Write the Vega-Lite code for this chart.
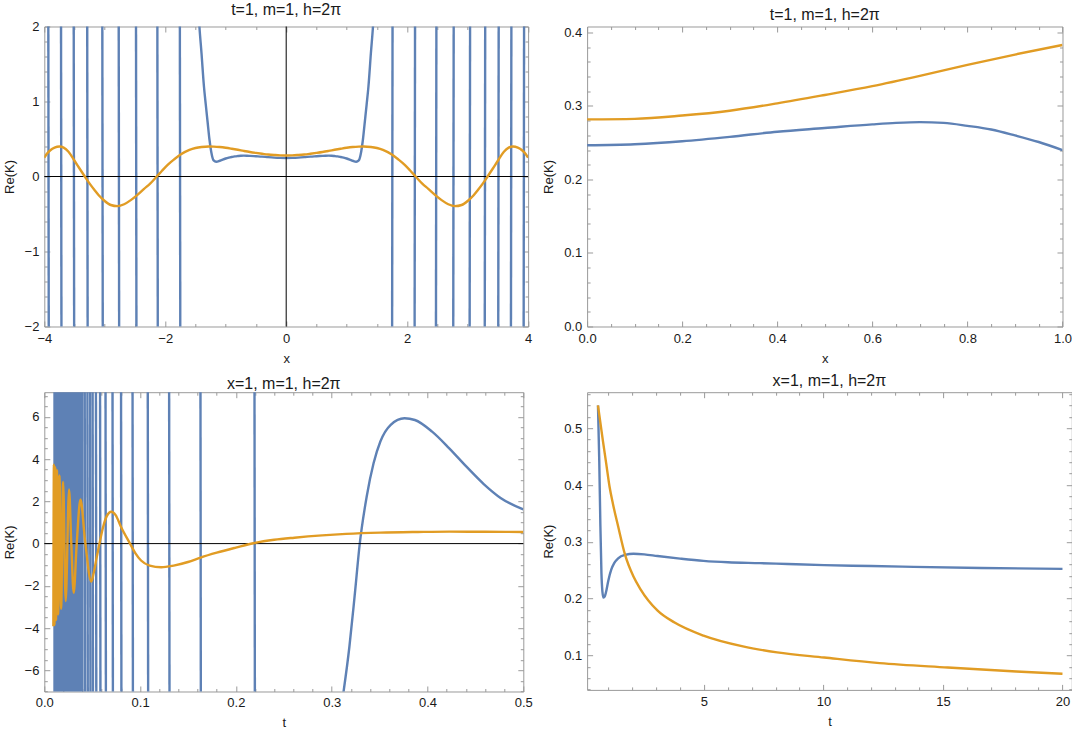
{
  "$schema": "https://vega.github.io/schema/vega-lite/v6.json",
  "background": "white",
  "padding": {"left": 2.3, "top": 0.5, "right": 5, "bottom": 5},
  "datasets": {
    "zero": [{"v": 0}],
    "tl_blue": [
      {"x": -3.934, "y": 2.3, "g": "a1"}, {"x": -3.926, "y": -2.3, "g": "a1"},
      {"x": -3.724, "y": 2.3, "g": "a2"}, {"x": -3.716, "y": -2.3, "g": "a2"},
      {"x": -3.514, "y": 2.3, "g": "a3"}, {"x": -3.506, "y": -2.3, "g": "a3"},
      {"x": -3.291, "y": 2.3, "g": "a4"}, {"x": -3.283, "y": -2.3, "g": "a4"},
      {"x": -3.041, "y": 2.3, "g": "a5"}, {"x": -3.033, "y": -2.3, "g": "a5"},
      {"x": -2.77, "y": 2.3, "g": "a6"}, {"x": -2.762, "y": -2.3, "g": "a6"},
      {"x": -2.484, "y": 2.3, "g": "a7"}, {"x": -2.476, "y": -2.3, "g": "a7"},
      {"x": -2.131, "y": 2.3, "g": "a8"}, {"x": -2.123, "y": -2.3, "g": "a8"},
      {"x": -1.759, "y": 2.3, "g": "a9"}, {"x": -1.751, "y": -2.3, "g": "a9"},
      {"x": 1.751, "y": -2.3, "g": "b1"}, {"x": 1.759, "y": 2.3, "g": "b1"},
      {"x": 2.123, "y": -2.3, "g": "b2"}, {"x": 2.131, "y": 2.3, "g": "b2"},
      {"x": 2.476, "y": -2.3, "g": "b3"}, {"x": 2.484, "y": 2.3, "g": "b3"},
      {"x": 2.762, "y": -2.3, "g": "b4"}, {"x": 2.77, "y": 2.3, "g": "b4"},
      {"x": 3.033, "y": -2.3, "g": "b5"}, {"x": 3.041, "y": 2.3, "g": "b5"},
      {"x": 3.283, "y": -2.3, "g": "b6"}, {"x": 3.291, "y": 2.3, "g": "b6"},
      {"x": 3.506, "y": -2.3, "g": "b7"}, {"x": 3.514, "y": 2.3, "g": "b7"},
      {"x": 3.716, "y": -2.3, "g": "b8"}, {"x": 3.724, "y": 2.3, "g": "b8"},
      {"x": 3.926, "y": -2.3, "g": "b9"}, {"x": 3.934, "y": 2.3, "g": "b9"},
      {"x": -1.46, "y": 2.35, "g": "c"}, {"x": -1.435, "y": 2.0, "g": "c"},
      {"x": -1.4, "y": 1.64, "g": "c"}, {"x": -1.36, "y": 1.2, "g": "c"},
      {"x": -1.33, "y": 0.96, "g": "c"}, {"x": -1.3, "y": 0.73, "g": "c"},
      {"x": -1.27, "y": 0.5, "g": "c"}, {"x": -1.24, "y": 0.33, "g": "c"},
      {"x": -1.2, "y": 0.215, "g": "c"}, {"x": -1.157, "y": 0.197, "g": "c"},
      {"x": -1.1, "y": 0.21, "g": "c"}, {"x": -1.05, "y": 0.226, "g": "c"},
      {"x": -1.0, "y": 0.24, "g": "c"}, {"x": -0.95, "y": 0.251, "g": "c"},
      {"x": -0.9, "y": 0.26, "g": "c"}, {"x": -0.85, "y": 0.268, "g": "c"},
      {"x": -0.8, "y": 0.273, "g": "c"}, {"x": -0.75, "y": 0.277, "g": "c"},
      {"x": -0.7, "y": 0.278, "g": "c"}, {"x": -0.65, "y": 0.277, "g": "c"},
      {"x": -0.6, "y": 0.275, "g": "c"}, {"x": -0.5, "y": 0.27, "g": "c"},
      {"x": -0.4, "y": 0.265, "g": "c"}, {"x": -0.3, "y": 0.258, "g": "c"},
      {"x": -0.2, "y": 0.252, "g": "c"}, {"x": -0.1, "y": 0.248, "g": "c"},
      {"x": 0, "y": 0.2465, "g": "c"},
      {"x": 0.1, "y": 0.248, "g": "c"}, {"x": 0.2, "y": 0.252, "g": "c"},
      {"x": 0.3, "y": 0.258, "g": "c"}, {"x": 0.4, "y": 0.265, "g": "c"},
      {"x": 0.5, "y": 0.27, "g": "c"}, {"x": 0.6, "y": 0.275, "g": "c"},
      {"x": 0.65, "y": 0.277, "g": "c"}, {"x": 0.7, "y": 0.278, "g": "c"},
      {"x": 0.75, "y": 0.277, "g": "c"}, {"x": 0.8, "y": 0.273, "g": "c"},
      {"x": 0.85, "y": 0.268, "g": "c"}, {"x": 0.9, "y": 0.26, "g": "c"},
      {"x": 0.95, "y": 0.251, "g": "c"}, {"x": 1.0, "y": 0.24, "g": "c"},
      {"x": 1.05, "y": 0.226, "g": "c"}, {"x": 1.1, "y": 0.21, "g": "c"},
      {"x": 1.157, "y": 0.197, "g": "c"}, {"x": 1.2, "y": 0.215, "g": "c"},
      {"x": 1.24, "y": 0.33, "g": "c"}, {"x": 1.27, "y": 0.5, "g": "c"},
      {"x": 1.3, "y": 0.73, "g": "c"}, {"x": 1.33, "y": 0.96, "g": "c"},
      {"x": 1.36, "y": 1.2, "g": "c"}, {"x": 1.4, "y": 1.64, "g": "c"},
      {"x": 1.435, "y": 2.0, "g": "c"}, {"x": 1.46, "y": 2.35, "g": "c"}
    ],
    "tl_orange": [
      {"x": -4.0, "y": 0.25}, {"x": -3.96, "y": 0.3}, {"x": -3.9, "y": 0.35},
      {"x": -3.83, "y": 0.385}, {"x": -3.75, "y": 0.4}, {"x": -3.68, "y": 0.385},
      {"x": -3.6, "y": 0.33}, {"x": -3.5, "y": 0.21}, {"x": -3.42, "y": 0.11},
      {"x": -3.33, "y": 0.0}, {"x": -3.25, "y": -0.095}, {"x": -3.17, "y": -0.18},
      {"x": -3.1, "y": -0.25}, {"x": -3.01, "y": -0.32}, {"x": -2.9, "y": -0.38},
      {"x": -2.79, "y": -0.395}, {"x": -2.68, "y": -0.37}, {"x": -2.57, "y": -0.315},
      {"x": -2.46, "y": -0.245}, {"x": -2.35, "y": -0.165}, {"x": -2.25, "y": -0.095},
      {"x": -2.14, "y": 0.0}, {"x": -2.05, "y": 0.08}, {"x": -1.96, "y": 0.155},
      {"x": -1.85, "y": 0.23}, {"x": -1.74, "y": 0.297}, {"x": -1.6, "y": 0.355},
      {"x": -1.5, "y": 0.38}, {"x": -1.4, "y": 0.394}, {"x": -1.28, "y": 0.401},
      {"x": -1.2, "y": 0.399}, {"x": -1.1, "y": 0.393}, {"x": -1.0, "y": 0.383},
      {"x": -0.9, "y": 0.37}, {"x": -0.8, "y": 0.356}, {"x": -0.7, "y": 0.341},
      {"x": -0.6, "y": 0.327}, {"x": -0.5, "y": 0.315}, {"x": -0.4, "y": 0.304},
      {"x": -0.3, "y": 0.294}, {"x": -0.2, "y": 0.287}, {"x": -0.1, "y": 0.282},
      {"x": 0, "y": 0.281},
      {"x": 0.1, "y": 0.282}, {"x": 0.2, "y": 0.287}, {"x": 0.3, "y": 0.294},
      {"x": 0.4, "y": 0.304}, {"x": 0.5, "y": 0.315}, {"x": 0.6, "y": 0.327},
      {"x": 0.7, "y": 0.341}, {"x": 0.8, "y": 0.356}, {"x": 0.9, "y": 0.37},
      {"x": 1.0, "y": 0.383}, {"x": 1.1, "y": 0.393}, {"x": 1.2, "y": 0.399},
      {"x": 1.28, "y": 0.401}, {"x": 1.4, "y": 0.394}, {"x": 1.5, "y": 0.38},
      {"x": 1.6, "y": 0.355}, {"x": 1.74, "y": 0.297}, {"x": 1.85, "y": 0.23},
      {"x": 1.96, "y": 0.155}, {"x": 2.05, "y": 0.08}, {"x": 2.14, "y": 0.0},
      {"x": 2.25, "y": -0.095}, {"x": 2.35, "y": -0.165}, {"x": 2.46, "y": -0.245},
      {"x": 2.57, "y": -0.315}, {"x": 2.68, "y": -0.37}, {"x": 2.79, "y": -0.395},
      {"x": 2.9, "y": -0.38}, {"x": 3.01, "y": -0.32}, {"x": 3.1, "y": -0.25},
      {"x": 3.17, "y": -0.18}, {"x": 3.25, "y": -0.095}, {"x": 3.33, "y": 0.0},
      {"x": 3.42, "y": 0.11}, {"x": 3.5, "y": 0.21}, {"x": 3.6, "y": 0.33},
      {"x": 3.68, "y": 0.385}, {"x": 3.75, "y": 0.4}, {"x": 3.83, "y": 0.385},
      {"x": 3.9, "y": 0.35}, {"x": 3.96, "y": 0.3}, {"x": 4.0, "y": 0.25}
    ],
    "tr_blue": [
      {"x": 0, "y": 0.2465}, {"x": 0.1, "y": 0.248}, {"x": 0.2, "y": 0.252},
      {"x": 0.3, "y": 0.258}, {"x": 0.4, "y": 0.265}, {"x": 0.5, "y": 0.27},
      {"x": 0.6, "y": 0.275}, {"x": 0.65, "y": 0.277}, {"x": 0.7, "y": 0.278},
      {"x": 0.75, "y": 0.277}, {"x": 0.8, "y": 0.273}, {"x": 0.85, "y": 0.268},
      {"x": 0.9, "y": 0.26}, {"x": 0.95, "y": 0.251}, {"x": 1.0, "y": 0.24}
    ],
    "tr_orange": [
      {"x": 0, "y": 0.2818}, {"x": 0.1, "y": 0.2825}, {"x": 0.2, "y": 0.287},
      {"x": 0.3, "y": 0.2936}, {"x": 0.4, "y": 0.3036}, {"x": 0.5, "y": 0.315},
      {"x": 0.6, "y": 0.327}, {"x": 0.7, "y": 0.341}, {"x": 0.8, "y": 0.356},
      {"x": 0.9, "y": 0.37}, {"x": 1.0, "y": 0.383}
    ],
    "bl_fill": [{"x": 0.0094, "x2": 0.041, "y": -7.6, "y2": 7.6}],
    "bl_blue": [
      {"x": 0.0422, "y": 7.6, "g": "s1"}, {"x": 0.0426, "y": -7.6, "g": "s1"},
      {"x": 0.045, "y": 7.6, "g": "s2"}, {"x": 0.0454, "y": -7.6, "g": "s2"},
      {"x": 0.0478, "y": 7.6, "g": "s3"}, {"x": 0.0482, "y": -7.6, "g": "s3"},
      {"x": 0.0504, "y": 7.6, "g": "s4"}, {"x": 0.0508, "y": -7.6, "g": "s4"},
      {"x": 0.0539, "y": 7.6, "g": "s5"}, {"x": 0.0543, "y": -7.6, "g": "s5"},
      {"x": 0.0582, "y": 7.6, "g": "s6"}, {"x": 0.0586, "y": -7.6, "g": "s6"},
      {"x": 0.0639, "y": 7.6, "g": "s7"}, {"x": 0.0643, "y": -7.6, "g": "s7"},
      {"x": 0.0712, "y": 7.6, "g": "s8"}, {"x": 0.0716, "y": -7.6, "g": "s8"},
      {"x": 0.0801, "y": 7.6, "g": "s9"}, {"x": 0.0805, "y": -7.6, "g": "s9"},
      {"x": 0.0921, "y": 7.6, "g": "s10"}, {"x": 0.0925, "y": -7.6, "g": "s10"},
      {"x": 0.108, "y": 7.6, "g": "s11"}, {"x": 0.1084, "y": -7.6, "g": "s11"},
      {"x": 0.1303, "y": 7.6, "g": "s12"}, {"x": 0.1307, "y": -7.6, "g": "s12"},
      {"x": 0.163, "y": 7.6, "g": "s13"}, {"x": 0.1634, "y": -7.6, "g": "s13"},
      {"x": 0.2194, "y": 7.6, "g": "s14"}, {"x": 0.2198, "y": -7.6, "g": "s14"},
      {"x": 0.3105, "y": -7.6, "g": "c"}, {"x": 0.3185, "y": -4.87, "g": "c"},
      {"x": 0.3239, "y": -2.5, "g": "c"}, {"x": 0.3293, "y": 0.0, "g": "c"},
      {"x": 0.3365, "y": 2.22, "g": "c"}, {"x": 0.3437, "y": 3.8, "g": "c"},
      {"x": 0.3508, "y": 4.83, "g": "c"}, {"x": 0.3616, "y": 5.62, "g": "c"},
      {"x": 0.376, "y": 5.93, "g": "c"}, {"x": 0.3868, "y": 5.85, "g": "c"},
      {"x": 0.4048, "y": 5.3, "g": "c"}, {"x": 0.4227, "y": 4.51, "g": "c"},
      {"x": 0.4407, "y": 3.64, "g": "c"}, {"x": 0.4587, "y": 2.82, "g": "c"},
      {"x": 0.4767, "y": 2.15, "g": "c"}, {"x": 0.5, "y": 1.62, "g": "c"}
    ],
    "bl_orange": [
      {"x": 0.00945, "y": -3.91}, {"x": 0.01003, "y": 3.74}, {"x": 0.01068, "y": -3.85},
      {"x": 0.01143, "y": 3.62}, {"x": 0.01229, "y": -3.62}, {"x": 0.01328, "y": 3.47},
      {"x": 0.01445, "y": -3.35}, {"x": 0.01585, "y": 3.22}, {"x": 0.01754, "y": -3.08},
      {"x": 0.01965, "y": 2.92}, {"x": 0.02232, "y": -2.72}, {"x": 0.02584, "y": 2.56},
      {"x": 0.0281, "y": 0.1}, {"x": 0.03067, "y": -2.33}, {"x": 0.03384, "y": 0.0},
      {"x": 0.03774, "y": 2.09}, {"x": 0.04264, "y": 0.1}, {"x": 0.04902, "y": -1.8},
      {"x": 0.0515, "y": -1.4}, {"x": 0.0545, "y": -0.7}, {"x": 0.0576, "y": 0.0},
      {"x": 0.0612, "y": 0.75}, {"x": 0.0652, "y": 1.3}, {"x": 0.06993, "y": 1.51},
      {"x": 0.0745, "y": 1.35}, {"x": 0.08, "y": 0.8}, {"x": 0.0895, "y": 0.0},
      {"x": 0.095, "y": -0.45}, {"x": 0.101, "y": -0.8}, {"x": 0.11, "y": -1.04},
      {"x": 0.122, "y": -1.12}, {"x": 0.135, "y": -1.04}, {"x": 0.15, "y": -0.87},
      {"x": 0.1632, "y": -0.66}, {"x": 0.18, "y": -0.43}, {"x": 0.2, "y": -0.19},
      {"x": 0.2196, "y": 0.03}, {"x": 0.24, "y": 0.18}, {"x": 0.261, "y": 0.28},
      {"x": 0.29, "y": 0.39}, {"x": 0.315, "y": 0.46}, {"x": 0.351, "y": 0.52},
      {"x": 0.39, "y": 0.55}, {"x": 0.423, "y": 0.565}, {"x": 0.46, "y": 0.56},
      {"x": 0.5, "y": 0.55}
    ],
    "br_blue": [
      {"x": 0.565, "y": 0.54}, {"x": 0.62, "y": 0.44}, {"x": 0.665, "y": 0.33},
      {"x": 0.71, "y": 0.245}, {"x": 0.75, "y": 0.213}, {"x": 0.795, "y": 0.202},
      {"x": 0.85, "y": 0.204}, {"x": 0.92, "y": 0.215}, {"x": 1.0, "y": 0.232},
      {"x": 1.12, "y": 0.251}, {"x": 1.25, "y": 0.263}, {"x": 1.41, "y": 0.271},
      {"x": 1.7, "y": 0.277}, {"x": 2.05, "y": 0.279}, {"x": 2.5, "y": 0.278},
      {"x": 3.06, "y": 0.275}, {"x": 4.0, "y": 0.2705}, {"x": 4.98, "y": 0.2665},
      {"x": 6.0, "y": 0.264}, {"x": 7.34, "y": 0.2625}, {"x": 8.5, "y": 0.261},
      {"x": 10.03, "y": 0.259}, {"x": 12.0, "y": 0.2575}, {"x": 13.78, "y": 0.256},
      {"x": 16.6, "y": 0.254}, {"x": 20.0, "y": 0.2525}
    ],
    "br_orange": [
      {"x": 0.565, "y": 0.54}, {"x": 0.767, "y": 0.479}, {"x": 0.909, "y": 0.438},
      {"x": 1.05, "y": 0.397}, {"x": 1.19, "y": 0.367}, {"x": 1.41, "y": 0.327},
      {"x": 1.7, "y": 0.277}, {"x": 2.05, "y": 0.239}, {"x": 2.34, "y": 0.217},
      {"x": 3.06, "y": 0.179}, {"x": 3.77, "y": 0.158}, {"x": 4.98, "y": 0.135},
      {"x": 6.63, "y": 0.116}, {"x": 8.06, "y": 0.1055}, {"x": 10.03, "y": 0.0965},
      {"x": 12.35, "y": 0.0866}, {"x": 15.2, "y": 0.079}, {"x": 18.07, "y": 0.072},
      {"x": 20.0, "y": 0.068}
    ]
  },
  "columns": 2,
  "align": "each",
  "bounds": "flush",
  "spacing": {"row": 65.7, "column": 58.8},
  "concat": [
    {
      "width": 483.8,
      "height": 300,
      "title": {"text": "t=1, m=1, h=2π", "offset": 3},
      "layer": [
        {
          "data": {"name": "tl_blue"},
          "mark": {"type": "line", "color": "#5E81B5", "strokeWidth": 2.4, "clip": true, "interpolate": "monotone"},
          "encoding": {
            "x": {
              "field": "x", "type": "quantitative",
              "scale": {"domain": [-4, 4], "nice": false, "zero": false},
              "axis": {"orient": "bottom", "title": "x", "format": "d", "values": [-4, -2, 0, 2, 4],
                       "tickSize": 5.5, "offset": -5.5, "labelPadding": 5.5, "titlePadding": 7}
            },
            "y": {
              "field": "y", "type": "quantitative",
              "scale": {"domain": [-2, 2], "nice": false, "zero": false},
              "axis": {"orient": "left", "title": "Re(K)", "format": "d", "values": [-2, -1, 0, 1, 2],
                       "tickSize": 5.5, "offset": -5.5, "labelPadding": 5.4, "titlePadding": 8}
            },
            "detail": {"field": "g", "type": "nominal"}
          }
        },
        {
          "data": {"name": "zero"},
          "mark": {"type": "rule", "color": "black", "strokeWidth": 1},
          "encoding": {"y": {"field": "v", "type": "quantitative", "axis": null}}
        },
        {
          "data": {"name": "zero"},
          "mark": {"type": "rule", "color": "black", "strokeWidth": 1},
          "encoding": {"x": {"field": "v", "type": "quantitative", "axis": null}}
        },
        {
          "data": {"name": "tl_orange"},
          "mark": {"type": "line", "color": "#E19C24", "strokeWidth": 2.4, "clip": true, "interpolate": "monotone"},
          "encoding": {
            "x": {"field": "x", "type": "quantitative",
                  "axis": {"orient": "top", "title": null, "labels": false, "values": [-4, -2, 0, 2, 4], "tickSize": 5.5, "offset": -5.5}},
            "y": {"field": "y", "type": "quantitative",
                  "axis": {"orient": "right", "title": null, "labels": false, "values": [-2, -1, 0, 1, 2], "tickSize": 5.5, "offset": -5.5}}
          }
        },
        {
          "data": {"name": "tl_orange"},
          "mark": {"type": "point", "opacity": 0},
          "encoding": {
            "x": {"field": "x", "type": "quantitative",
                  "axis": {"orient": "bottom", "title": null, "labels": false, "values": [-3.5, -3, -2.5, -1.5, -1, -0.5, 0.5, 1, 1.5, 2.5, 3, 3.5], "tickSize": 3, "offset": -3}},
            "y": {"field": "y", "type": "quantitative",
                  "axis": {"orient": "left", "title": null, "labels": false, "values": [-1.8, -1.6, -1.4, -1.2, -0.8, -0.6, -0.4, -0.2, 0.2, 0.4, 0.6, 0.8, 1.2, 1.4, 1.6, 1.8], "tickSize": 3, "offset": -3}}
          }
        },
        {
          "data": {"name": "tl_orange"},
          "mark": {"type": "point", "opacity": 0},
          "encoding": {
            "x": {"field": "x", "type": "quantitative",
                  "axis": {"orient": "top", "title": null, "labels": false, "values": [-3.5, -3, -2.5, -1.5, -1, -0.5, 0.5, 1, 1.5, 2.5, 3, 3.5], "tickSize": 3, "offset": -3}},
            "y": {"field": "y", "type": "quantitative",
                  "axis": {"orient": "right", "title": null, "labels": false, "values": [-1.8, -1.6, -1.4, -1.2, -0.8, -0.6, -0.4, -0.2, 0.2, 0.4, 0.6, 0.8, 1.2, 1.4, 1.6, 1.8], "tickSize": 3, "offset": -3}}
          }
        }
      ],
      "resolve": {"axis": {"x": "independent", "y": "independent"}}
    },
    {
      "width": 475.4,
      "height": 300,
      "title": {"text": "t=1, m=1, h=2π", "offset": 2.8},
      "layer": [
        {
          "data": {"name": "tr_blue"},
          "mark": {"type": "line", "color": "#5E81B5", "strokeWidth": 2.4, "clip": true, "interpolate": "monotone"},
          "encoding": {
            "x": {
              "field": "x", "type": "quantitative",
              "scale": {"domain": [0, 1], "nice": false, "zero": false},
              "axis": {"orient": "bottom", "title": "x", "format": ".1f", "values": [0, 0.2, 0.4, 0.6, 0.8, 1],
                       "tickSize": 5.5, "offset": -5.5, "labelPadding": 5.5, "titlePadding": 7}
            },
            "y": {
              "field": "y", "type": "quantitative",
              "scale": {"domain": [0, 0.40816], "nice": false, "zero": false},
              "axis": {"orient": "left", "title": "Re(K)", "format": ".1f", "values": [0, 0.1, 0.2, 0.3, 0.4],
                       "tickSize": 5.5, "offset": -5.5, "labelPadding": 5.4, "titlePadding": 8}
            }
          }
        },
        {
          "data": {"name": "tr_orange"},
          "mark": {"type": "line", "color": "#E19C24", "strokeWidth": 2.4, "clip": true, "interpolate": "monotone"},
          "encoding": {
            "x": {"field": "x", "type": "quantitative",
                  "axis": {"orient": "top", "title": null, "labels": false, "values": [0, 0.2, 0.4, 0.6, 0.8, 1], "tickSize": 5.5, "offset": -5.5}},
            "y": {"field": "y", "type": "quantitative",
                  "axis": {"orient": "right", "title": null, "labels": false, "values": [0, 0.1, 0.2, 0.3, 0.4], "tickSize": 5.5, "offset": -5.5}}
          }
        },
        {
          "data": {"name": "tr_orange"},
          "mark": {"type": "point", "opacity": 0},
          "encoding": {
            "x": {"field": "x", "type": "quantitative",
                  "axis": {"orient": "bottom", "title": null, "labels": false, "values": [0.05, 0.1, 0.15, 0.25, 0.3, 0.35, 0.45, 0.5, 0.55, 0.65, 0.7, 0.75, 0.85, 0.9, 0.95], "tickSize": 3, "offset": -3}},
            "y": {"field": "y", "type": "quantitative",
                  "axis": {"orient": "left", "title": null, "labels": false, "values": [0.02, 0.04, 0.06, 0.08, 0.12, 0.14, 0.16, 0.18, 0.22, 0.24, 0.26, 0.28, 0.32, 0.34, 0.36, 0.38], "tickSize": 3, "offset": -3}}
          }
        },
        {
          "data": {"name": "tr_orange"},
          "mark": {"type": "point", "opacity": 0},
          "encoding": {
            "x": {"field": "x", "type": "quantitative",
                  "axis": {"orient": "top", "title": null, "labels": false, "values": [0.05, 0.1, 0.15, 0.25, 0.3, 0.35, 0.45, 0.5, 0.55, 0.65, 0.7, 0.75, 0.85, 0.9, 0.95], "tickSize": 3, "offset": -3}},
            "y": {"field": "y", "type": "quantitative",
                  "axis": {"orient": "right", "title": null, "labels": false, "values": [0.02, 0.04, 0.06, 0.08, 0.12, 0.14, 0.16, 0.18, 0.22, 0.24, 0.26, 0.28, 0.32, 0.34, 0.36, 0.38], "tickSize": 3, "offset": -3}}
          }
        }
      ],
      "resolve": {"axis": {"x": "independent", "y": "independent"}}
    },
    {
      "width": 479,
      "height": 299.3,
      "title": {"text": "x=1, m=1, h=2π", "offset": -0.3},
      "layer": [
        {
          "data": {"name": "bl_fill"},
          "mark": {"type": "rect", "color": "#5E81B5", "clip": true},
          "encoding": {
            "x": {"field": "x", "type": "quantitative", "axis": null, "scale": {"domain": [0, 0.5], "nice": false, "zero": false}},
            "x2": {"field": "x2"},
            "y": {"field": "y", "type": "quantitative", "axis": null, "scale": {"domain": [-7, 7.166], "nice": false, "zero": false}},
            "y2": {"field": "y2"}
          }
        },
        {
          "data": {"name": "bl_blue"},
          "mark": {"type": "line", "color": "#5E81B5", "strokeWidth": 2.4, "clip": true, "interpolate": "monotone"},
          "encoding": {
            "x": {
              "field": "x", "type": "quantitative",
              "scale": {"domain": [0, 0.5], "nice": false, "zero": false},
              "axis": {"orient": "bottom", "title": "t", "format": ".1f", "values": [0, 0.1, 0.2, 0.3, 0.4, 0.5],
                       "tickSize": 5.5, "offset": -5.5, "labelPadding": 5.5, "titlePadding": 7}
            },
            "y": {
              "field": "y", "type": "quantitative",
              "scale": {"domain": [-7, 7.166], "nice": false, "zero": false},
              "axis": {"orient": "left", "title": "Re(K)", "format": "d", "values": [-6, -4, -2, 0, 2, 4, 6],
                       "tickSize": 5.5, "offset": -5.5, "labelPadding": 5.4, "titlePadding": 8}
            },
            "detail": {"field": "g", "type": "nominal"}
          }
        },
        {
          "data": {"name": "zero"},
          "mark": {"type": "rule", "color": "black", "strokeWidth": 1},
          "encoding": {"y": {"field": "v", "type": "quantitative", "axis": null}}
        },
        {
          "data": {"name": "bl_orange"},
          "mark": {"type": "line", "color": "#E19C24", "strokeWidth": 2.4, "clip": true, "interpolate": "monotone"},
          "encoding": {
            "x": {"field": "x", "type": "quantitative",
                  "axis": {"orient": "top", "title": null, "labels": false, "values": [0, 0.1, 0.2, 0.3, 0.4, 0.5], "tickSize": 5.5, "offset": -5.5}},
            "y": {"field": "y", "type": "quantitative",
                  "axis": {"orient": "right", "title": null, "labels": false, "values": [-6, -4, -2, 0, 2, 4, 6], "tickSize": 5.5, "offset": -5.5}}
          }
        },
        {
          "data": {"name": "bl_orange"},
          "mark": {"type": "point", "opacity": 0},
          "encoding": {
            "x": {"field": "x", "type": "quantitative",
                  "axis": {"orient": "bottom", "title": null, "labels": false, "values": [0.02, 0.04, 0.06, 0.08, 0.12, 0.14, 0.16, 0.18, 0.22, 0.24, 0.26, 0.28, 0.32, 0.34, 0.36, 0.38, 0.42, 0.44, 0.46, 0.48], "tickSize": 3, "offset": -3}},
            "y": {"field": "y", "type": "quantitative",
                  "axis": {"orient": "left", "title": null, "labels": false, "values": [-7, -6.5, -5.5, -5, -4.5, -3.5, -3, -2.5, -1.5, -1, -0.5, 0.5, 1, 1.5, 2.5, 3, 3.5, 4.5, 5, 5.5, 6.5, 7], "tickSize": 3, "offset": -3}}
          }
        },
        {
          "data": {"name": "bl_orange"},
          "mark": {"type": "point", "opacity": 0},
          "encoding": {
            "x": {"field": "x", "type": "quantitative",
                  "axis": {"orient": "top", "title": null, "labels": false, "values": [0.02, 0.04, 0.06, 0.08, 0.12, 0.14, 0.16, 0.18, 0.22, 0.24, 0.26, 0.28, 0.32, 0.34, 0.36, 0.38, 0.42, 0.44, 0.46, 0.48], "tickSize": 3, "offset": -3}},
            "y": {"field": "y", "type": "quantitative",
                  "axis": {"orient": "right", "title": null, "labels": false, "values": [-7, -6.5, -5.5, -5, -4.5, -3.5, -3, -2.5, -1.5, -1, -0.5, 0.5, 1, 1.5, 2.5, 3, 3.5, 4.5, 5, 5.5, 6.5, 7], "tickSize": 3, "offset": -3}}
          }
        }
      ],
      "resolve": {"axis": {"x": "independent", "y": "independent"}}
    },
    {
      "width": 484.7,
      "height": 297.7,
      "title": {"text": "x=1, m=1, h=2π", "offset": 3},
      "layer": [
        {
          "data": {"name": "br_blue"},
          "mark": {"type": "line", "color": "#5E81B5", "strokeWidth": 2.4, "clip": true, "interpolate": "monotone"},
          "encoding": {
            "x": {
              "field": "x", "type": "quantitative",
              "scale": {"domain": [0.11, 20.39], "nice": false, "zero": false},
              "axis": {"orient": "bottom", "title": "t", "format": "d", "values": [5, 10, 15, 20],
                       "tickSize": 5.5, "offset": -5.5, "labelPadding": 5.5, "titlePadding": 7}
            },
            "y": {
              "field": "y", "type": "quantitative",
              "scale": {"domain": [0.0395, 0.5633], "nice": false, "zero": false},
              "axis": {"orient": "left", "title": "Re(K)", "format": ".1f", "values": [0.1, 0.2, 0.3, 0.4, 0.5],
                       "tickSize": 5.5, "offset": -5.5, "labelPadding": 5.4, "titlePadding": 8}
            }
          }
        },
        {
          "data": {"name": "br_orange"},
          "mark": {"type": "line", "color": "#E19C24", "strokeWidth": 2.4, "clip": true, "interpolate": "monotone"},
          "encoding": {
            "x": {"field": "x", "type": "quantitative",
                  "axis": {"orient": "top", "title": null, "labels": false, "values": [5, 10, 15, 20], "tickSize": 5.5, "offset": -5.5}},
            "y": {"field": "y", "type": "quantitative",
                  "axis": {"orient": "right", "title": null, "labels": false, "values": [0.1, 0.2, 0.3, 0.4, 0.5], "tickSize": 5.5, "offset": -5.5}}
          }
        },
        {
          "data": {"name": "br_orange"},
          "mark": {"type": "point", "opacity": 0},
          "encoding": {
            "x": {"field": "x", "type": "quantitative",
                  "axis": {"orient": "bottom", "title": null, "labels": false, "values": [1, 2, 3, 4, 6, 7, 8, 9, 11, 12, 13, 14, 16, 17, 18, 19], "tickSize": 3, "offset": -3}},
            "y": {"field": "y", "type": "quantitative",
                  "axis": {"orient": "left", "title": null, "labels": false, "values": [0.04, 0.06, 0.08, 0.12, 0.14, 0.16, 0.18, 0.22, 0.24, 0.26, 0.28, 0.32, 0.34, 0.36, 0.38, 0.42, 0.44, 0.46, 0.48, 0.52, 0.54, 0.56], "tickSize": 3, "offset": -3}}
          }
        },
        {
          "data": {"name": "br_orange"},
          "mark": {"type": "point", "opacity": 0},
          "encoding": {
            "x": {"field": "x", "type": "quantitative",
                  "axis": {"orient": "top", "title": null, "labels": false, "values": [1, 2, 3, 4, 6, 7, 8, 9, 11, 12, 13, 14, 16, 17, 18, 19], "tickSize": 3, "offset": -3}},
            "y": {"field": "y", "type": "quantitative",
                  "axis": {"orient": "right", "title": null, "labels": false, "values": [0.04, 0.06, 0.08, 0.12, 0.14, 0.16, 0.18, 0.22, 0.24, 0.26, 0.28, 0.32, 0.34, 0.36, 0.38, 0.42, 0.44, 0.46, 0.48, 0.52, 0.54, 0.56], "tickSize": 3, "offset": -3}}
          }
        }
      ],
      "resolve": {"axis": {"x": "independent", "y": "independent"}}
    }
  ],
  "config": {
    "view": {"stroke": "#9a9a9a", "strokeWidth": 1},
    "axis": {
      "grid": false, "domain": false, "tickColor": "#9a9a9a", "tickWidth": 1,
      "labelFont": "Liberation Sans", "labelFontSize": 13, "labelColor": "#1a1a1a",
      "labelFlush": false, "labelOverlap": false, "labelBound": false,
      "titleFont": "Liberation Sans", "titleFontSize": 13, "titleFontWeight": "normal", "titleColor": "#1a1a1a"
    },
    "title": {"font": "Liberation Sans", "fontSize": 16, "fontWeight": "normal", "color": "#1a1a1a", "frame": "group", "anchor": "middle", "baseline": "alphabetic"}
  }
}
